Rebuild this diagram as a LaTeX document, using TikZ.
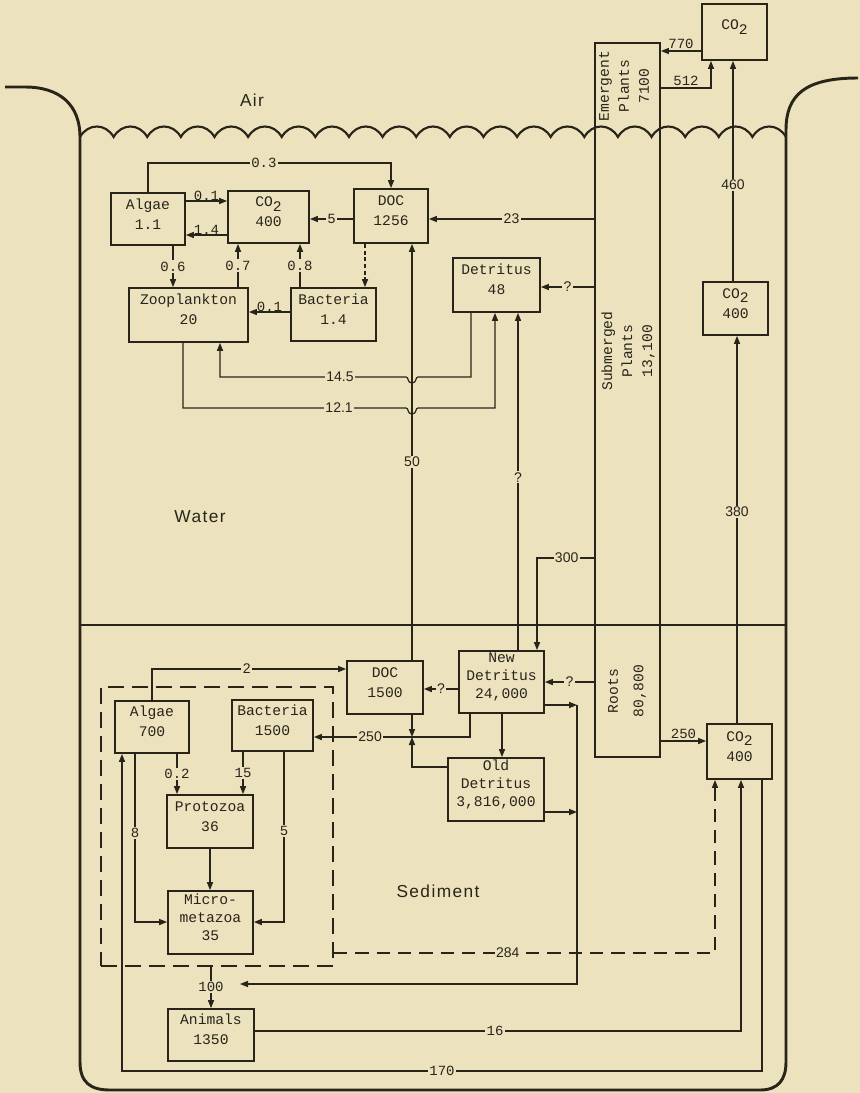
\documentclass[tikz,border=0pt]{standalone}
\usepackage{fontspec}
\setmainfont{Liberation Serif}
\setsansfont{Liberation Sans}
\setmonofont{Liberation Mono}
\usetikzlibrary{arrows.meta,fit}
\definecolor{bg}{RGB}{236,227,190}
\definecolor{ink}{RGB}{40,36,26}
\newcommand\bxfont{\ttfamily\fontsize{11}{15}\selectfont}
\newcommand\lbfont{\sffamily\fontsize{10.5}{12}\selectfont}
\newcommand\lmfont{\ttfamily\fontsize{10.5}{12}\selectfont}
\newcommand\rgfont{\sffamily\fontsize{13}{15}\selectfont\addfontfeature{LetterSpace=8}}
\newcommand\cotwo{CO\raisebox{-0.55ex}{2}}
\begin{document}
\begin{tikzpicture}[x=0.75pt,y=-0.75pt,
  box/.style={draw=ink, line width=1.4pt, inner sep=0pt, align=center, font=\bxfont, text=ink},
  ln/.style={draw=ink, line width=0.9pt},
  arr/.style={ln, -{Triangle[length=6pt,width=4.6pt]}},
  wall/.style={draw=ink, line width=2.2pt},
  lab/.style={fill=bg, inner sep=1pt, font=\lbfont, text=ink},
  labm/.style={fill=bg, inner sep=1pt, font=\lmfont, text=ink},
  labt/.style={inner sep=1pt, font=\lmfont, text=ink},
  region/.style={font=\rgfont, text=ink},
  ptext/.style={rotate=90, align=center, font=\bxfont, text=ink},
  grpbox/.style={draw=ink, line width=1.4pt, dash pattern=on 12pt off 6pt, inner sep=0pt},
]
\fill[bg] (0,0) rectangle (860,1093);
\useasboundingbox (0,0) rectangle (860,1093);

% container
\draw[wall] (5,87) -- (25,87) .. controls (60,87) and (80,105) .. (80,137)
  -- (80,1062) .. controls (80,1082) and (90,1090) .. (110,1090)
  -- (760,1090) .. controls (778,1090) and (786,1080) .. (786,1062)
  -- (786,130) .. controls (786,95) and (805,78) .. (858,78);
% water surface
\draw[ink, line width=1.6pt] (80,137)
  \foreach \i in {0,...,20} { .. controls ({80+\i*33.62+8},123) and ({80+\i*33.62+25.6},123) .. ({80+(\i+1)*33.62},137) };
% water/sediment divide
\draw[wall, line width=2pt] (80,625) -- (786,625);

% plant column
\node[box, fit={(595,43) (660,757)}] (plant) {};
\node[ptext] at (624,86) {Emergent\\Plants\\7100};
\node[ptext] at (628,351) {Submerged\\Plants\\13,100};
\node[ptext, font=\ttfamily\fontsize{11}{19}\selectfont] at (627,691) {Roots\\80,800};

% boxes
\node[box, fit={(702,4) (767,60)}] (co2a) {\cotwo};
\node[box, fit={(703,282) (768,335)}] (co2w) {\cotwo\\400};
\node[box, fit={(707,724) (772,779)}] (co2s) {\cotwo\\400};
\node[box, fit={(111,193) (185,245)}] (algW) {Algae\\1.1};
\node[box, fit={(228,191) (309,243)}] (co2m) {\cotwo\\400};
\node[box, fit={(354,189) (428,243)}] (docW) {DOC\\1256};
\node[box, fit={(453,258) (540,312)}] (detW) {Detritus\\48};
\node[box, fit={(129,288) (248,342)}] (zoo) {Zooplankton\\20};
\node[box, fit={(291,288) (376,341)}] (bacW) {Bacteria\\1.4};
\node[box, fit={(347,661) (423,714)}] (docS) {DOC\\1500};
\node[box, fit={(459,651) (544,713)}, font=\ttfamily\fontsize{11}{13.5}\selectfont] (newD) {New\\Detritus\\24,000};
\node[box, fit={(448,758) (544,821)}, font=\ttfamily\fontsize{11}{13.5}\selectfont] (oldD) {Old\\Detritus\\3,816,000};
\node[box, fit={(115,701) (189,753)}] (algS) {Algae\\700};
\node[box, fit={(232,700) (313,751)}] (bacS) {Bacteria\\1500};
\node[box, fit={(167,795) (253,848)}] (proto) {Protozoa\\36};
\node[box, fit={(168,891) (253,954)}, font=\ttfamily\fontsize{11}{13.5}\selectfont] (micro) {Micro-\\metazoa\\35};
\node[box, fit={(168,1009) (254,1061)}] (animals) {Animals\\1350};
\node[grpbox, fit={(101,687) (333,966)}] (grp) {};

% region labels
\node[region] at (252,100) {Air};
\node[region] at (200,517) {Water};
\node[region] at (438,891) {Sediment};

% air connectors
\draw[arr] (co2a.west |- 0,51) -- node[labt, above=0pt]{770} (plant.east |- 0,51);
\draw[arr] (plant.east |- 0,88) -| node[labt, pos=0.25, above=0pt]{512} (co2a.south -| 711,0);
\draw[arr] (co2w.north -| 733,0) -- node[lab, pos=0.437]{460} (co2a.south -| 733,0);
\draw[arr] (co2s.north -| 737,0) -- node[lab, pos=0.545]{380} (co2w.south -| 737,0);

% water connectors
\draw[arr] (algW.north -| 148,0) -- (148,163) -- node[labm, pos=0.477]{0.3} (391,163) -- (docW.north -| 391,0);
\draw[arr] (algW.east |- 0,201) -- node[labt, above=-1pt]{0.1} (co2m.west |- 0,201);
\draw[arr] (co2m.west |- 0,235) -- node[labt, above=-1pt]{1.4} (algW.east |- 0,235);
\draw[arr] (docW.west |- 0,219) -- node[labm]{5} (co2m.east |- 0,219);
\draw[arr] (plant.west |- 0,219) -- node[lab]{23} (docW.east |- 0,219);
\draw[arr] (algW.south -| 173,0) -- node[labm]{0.6} (zoo.north -| 173,0);
\draw[arr] (zoo.north -| 238,0) -- node[labm]{0.7} (co2m.south -| 238,0);
\draw[arr] (bacW.north -| 300,0) -- node[labm]{0.8} (co2m.south -| 300,0);
\draw[arr, dash pattern=on 3pt off 2pt] (docW.south -| 365,0) -- (bacW.north -| 365,0);
\draw[arr] (bacW.west |- 0,312) -- node[labt, above=-1pt]{0.1} (zoo.east |- 0,312);
\draw[arr] (detW.south -| 471,0) -- (471,377) -- (418,377)
  .. controls (415,377) and (417,383) .. (412,383) .. controls (407,383) and (409,377) .. (406,377)
  -- node[lab, pos=0.355]{14.5} (220,377) -- (zoo.south -| 220,0);
\draw[arr] (zoo.south -| 183,0) -- (183,408) -- node[lab, pos=0.70]{12.1} (406,408)
  .. controls (409,408) and (407,414) .. (412,414) .. controls (417,414) and (415,408) .. (418,408)
  -- (495,408) -- (detW.south -| 495,0);
\draw[arr] (docS.north -| 412,0) -- node[lab, pos=0.476]{50} (docW.south -| 412,0);
\draw[arr] (newD.north -| 518,0) -- node[lab, pos=0.513]{?} (detW.south -| 518,0);
\draw[arr] (plant.west |- 0,287) -- node[lab]{?} (detW.east |- 0,287);
\draw[arr] (plant.west |- 0,558) -| node[lab, pos=0.24]{300} (newD.north -| 537,0);

% sediment connectors
\draw[arr] (algS.north -| 152,0) |- node[lab, pos=0.744]{2} (docS.west |- 0,669);
\draw[arr] (newD.west |- 0,689) -- node[lab]{?} (docS.east |- 0,689);
\draw[arr] (plant.west |- 0,682) -- node[lab]{?} (newD.east |- 0,682);
\draw[arr] (newD.south -| 502,0) -- (oldD.north -| 502,0);
\coordinate (j250) at (412,737);
\draw[arr] (newD.south -| 470,0) |- node[lab, pos=0.82]{250} (bacS.east |- 0,737);
\draw[arr] (docS.south -| 412,0) -- (j250);
\draw[arr] (oldD.west |- 0,767) -| (j250);
\draw[arr] (plant.east |- 0,741) -- node[labt, above=0pt]{250} (co2s.west |- 0,741);
\draw[arr] (algS.south -| 177,0) -- node[labm]{0.2} (proto.north -| 177,0);
\draw[arr] (bacS.south -| 243,0) -- node[labm]{15} (proto.north -| 243,0);
\draw[arr] (proto.south -| 210,0) -- (micro.north -| 210,0);
\draw[arr] (algS.south -| 135,0) |- node[labm, pos=0.234]{8} (micro.west |- 0,922);
\draw[arr] (bacS.south -| 284,0) |- node[labm, pos=0.231]{5} (micro.east |- 0,922);
\draw[arr] (grp.south -| 211,0) -- node[labm, pos=0.48]{100} (animals.north -| 211,0);
\coordinate (dline) at (577,705);
\coordinate (t100) at (240,984);
\draw[arr] (newD.east |- 0,705) -- (dline);
\draw[arr] (oldD.east |- 0,812) -- (577,812);
\draw[arr] (dline) -- (577,984) -- (t100);
\draw[arr, dash pattern=on 10pt off 6pt] (grp.east |- 0,953) -| node[lab, pos=0.228]{284} (co2s.south -| 715,0);
\draw[arr] (animals.east |- 0,1031) -| node[labm, pos=0.247]{16} (co2s.south -| 741,0);
\draw[arr] (co2s.south -| 762,0) -- (762,1071) -- node[labm]{170} (122,1071) -- (algS.south -| 122,0);
\end{tikzpicture}
\end{document}
